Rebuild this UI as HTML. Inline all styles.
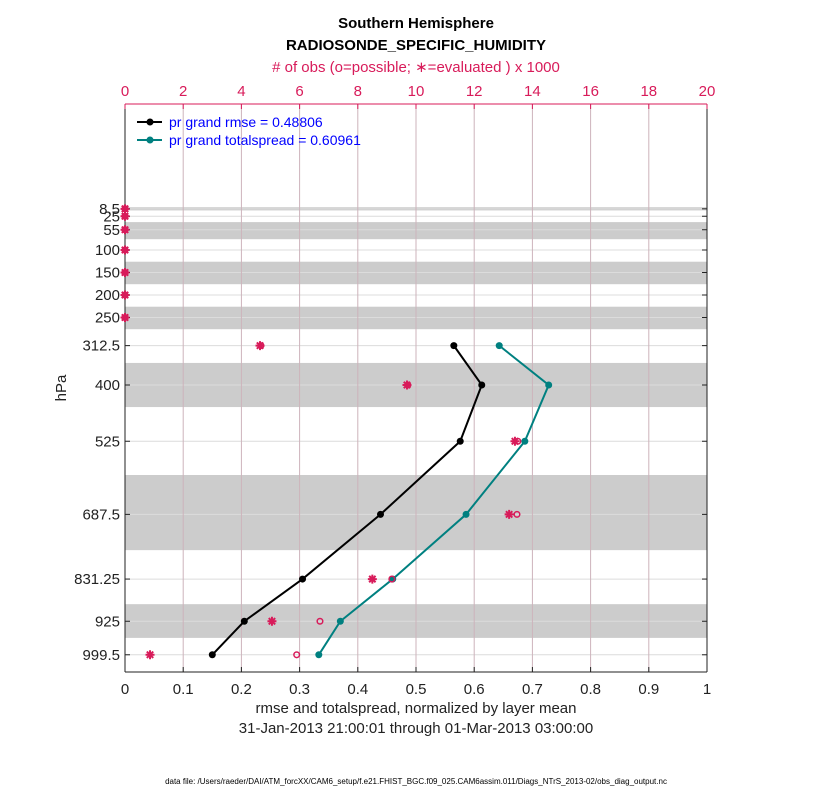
<!DOCTYPE html>
<html><head><meta charset="utf-8"><style>
body{margin:0;background:#fff;font-family:"Liberation Sans",sans-serif}
svg text{font-family:"Liberation Sans",sans-serif}
</style></head><body>
<svg id="chart" width="830" height="800">
<g id="g"></g>
</svg>
<script>
const levels=[8.5,25,55,100,150,200,250,312.5,400,525,687.5,831.25,925,999.5];
const levelLabels=["8.5","25","55","100","150","200","250","312.5","400","525","687.5","831.25","925","999.5"];
const bandRanges=[[5,12],[38,76],[126,176],[226,276],[351,449],[600,767],[887,962]];
const dataLevels=[312.5,400,525,687.5,831.25,925,999.5];
const rmse=[0.565,0.613,0.576,0.439,0.305,0.205,0.15];
const spread=[0.643,0.728,0.687,0.586,0.46,0.37,0.333];
const obsUsed=[0,0,0,0,0,0,0,4.64,9.69,13.4,13.2,8.5,5.05,0.86];
const obsPoss=[0,0,0,0,0,0,0,4.67,9.72,13.5,13.47,9.17,6.7,5.9];
const xTicks=[0,0.1,0.2,0.3,0.4,0.5,0.6,0.7,0.8,0.9,1];
const xTickLabels=["0","0.1","0.2","0.3","0.4","0.5","0.6","0.7","0.8","0.9","1"];
const topTicks=[0,2,4,6,8,10,12,14,16,18,20];

const L=125,R=707,T=104,B=672;
const X=v=>L+v*(R-L);
const XT=v=>L+v/20*(R-L);
const Y=p=>205+0.45*p;
const g=document.getElementById('g');
const NS='http://www.w3.org/2000/svg';
function mk(t,a,txt){const e=document.createElementNS(NS,t);for(const k in a)e.setAttribute(k,a[k]);if(txt!==undefined)e.textContent=txt;g.appendChild(e);return e;}

bandRanges.forEach(b=>{const e=mk('rect',{x:L,y:Y(b[0]),width:R-L,height:Y(b[1])-Y(b[0]),fill:'#cccccc'});

});
levels.forEach(p=>{const e=mk('line',{x1:L,x2:R,y1:Y(p),y2:Y(p),stroke:'#dcdcdc','stroke-width':1});


mk('line',{x1:L,x2:L+5,y1:Y(p),y2:Y(p),stroke:'#222'});mk('line',{x1:R,x2:R-5,y1:Y(p),y2:Y(p),stroke:'#222'});});
xTicks.forEach(v=>{if(v>0&&v<1){const e=mk('line',{x1:X(v),x2:X(v),y1:T,y2:B,stroke:'#cdb3bb','stroke-width':1});

}
mk('line',{x1:X(v),x2:X(v),y1:B,y2:B-5,stroke:'#222'});});
mk('line',{x1:L,x2:R,y1:B,y2:B,stroke:'#222'});
mk('line',{x1:L,x2:L,y1:T,y2:B,stroke:'#222'});
mk('line',{x1:R,x2:R,y1:T,y2:B,stroke:'#222'});
mk('line',{x1:L,x2:R,y1:T,y2:T,stroke:'#d81b5a'});
topTicks.forEach(v=>{mk('line',{x1:XT(v),x2:XT(v),y1:T,y2:T+5,stroke:'#d81b5a'});
const e=mk('text',{x:XT(v),y:T-8,'text-anchor':'middle','font-size':15,fill:'#d81b5a'},String(v));

});
xTicks.forEach((v,i)=>{const e=mk('text',{x:X(v),y:B+22,'text-anchor':'middle','font-size':15,fill:'#222'},xTickLabels[i]);

});
levels.forEach((p,i)=>{const e=mk('text',{x:L-5,y:Y(p)+5,'text-anchor':'end','font-size':15,fill:'#222'},levelLabels[i]);

});

function series(vals,col,name){
const pts=vals.map((v,i)=>X(v)+','+Y(dataLevels[i])).join(' ');
const e=mk('polyline',{points:pts,fill:'none',stroke:col,'stroke-width':2});


vals.forEach((v,i)=>{const c=mk('circle',{cx:X(v),cy:Y(dataLevels[i]),r:3.5,fill:col});

});}
series(rmse,'#000','rmse');
series(spread,'#008080','spread');

obsPoss.forEach((v,i)=>{const c=mk('circle',{cx:XT(v),cy:Y(levels[i]),r:2.8,fill:'none',stroke:'#d81b5a','stroke-width':1.5});

});
obsUsed.forEach((v,i)=>{const cx=XT(v),cy=Y(levels[i]),r=4.5;
const d=`M${cx-r},${cy}H${cx+r}M${cx},${cy-r}V${cy+r}M${cx-3.2},${cy-3.2}L${cx+3.2},${cy+3.2}M${cx-3.2},${cy+3.2}L${cx+3.2},${cy-3.2}`;
const e=mk('path',{d:d,stroke:'#d81b5a','stroke-width':2,fill:'none'});

});

mk('line',{x1:137,x2:162,y1:122,y2:122,stroke:'#000','stroke-width':2});mk('circle',{cx:150,cy:122,r:3.5,fill:'#000'});
mk('line',{x1:137,x2:162,y1:140,y2:140,stroke:'#008080','stroke-width':2});mk('circle',{cx:150,cy:140,r:3.5,fill:'#008080'});
let e=mk('text',{x:169,y:127,'font-size':14,fill:'#0000ff'},'pr grand rmse = 0.48806');


e=mk('text',{x:169,y:145,'font-size':14,fill:'#0000ff'},'pr grand totalspread = 0.60961');



e=mk('text',{x:416,y:28,'text-anchor':'middle','font-size':15,'font-weight':'bold',fill:'#000'},'Southern Hemisphere');


e=mk('text',{x:416,y:50,'text-anchor':'middle','font-size':15,'font-weight':'bold',fill:'#000'},'RADIOSONDE_SPECIFIC_HUMIDITY');


e=mk('text',{x:416,y:72,'text-anchor':'middle','font-size':15,fill:'#d81b5a'},'# of obs (o=possible; \u2217=evaluated ) x 1000');


e=mk('text',{x:416,y:713,'text-anchor':'middle','font-size':15,fill:'#222'},'rmse and totalspread, normalized by layer mean');


e=mk('text',{x:416,y:733,'text-anchor':'middle','font-size':15,fill:'#222'},'31-Jan-2013 21:00:01 through 01-Mar-2013 03:00:00');


e=mk('text',{x:66,y:388,'text-anchor':'middle','font-size':15,fill:'#222',transform:'rotate(-90 66 388)'},'hPa');


e=mk('text',{x:416,y:784,'text-anchor':'middle','font-size':8,fill:'#000'},'data file: /Users/raeder/DAI/ATM_forcXX/CAM6_setup/f.e21.FHIST_BGC.f09_025.CAM6assim.011/Diags_NTrS_2013-02/obs_diag_output.nc');


</script>
</body></html>
